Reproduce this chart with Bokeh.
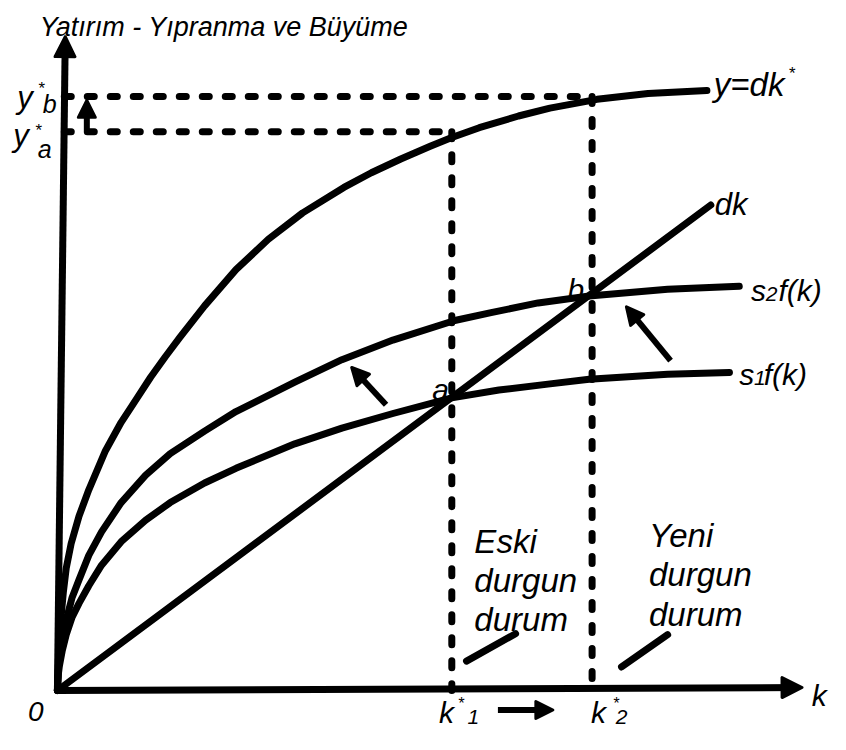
from bokeh.plotting import figure
from bokeh.models import Range1d, Arrow, NormalHead
from bokeh.core.properties import value
from bokeh.embed import file_html
from bokeh.resources import INLINE

# ---- data (k on x, amount on y; origin = 0) ----
# output curve (top curve, labelled y=dk*)
k_top = [0, 1, 2, 4, 6, 9, 14, 22, 32, 49, 65, 80, 95, 110, 125, 150, 182, 215, 250, 292, 320, 350, 380, 402, 430, 470, 502, 550, 602, 662]
y_top = [0, 30, 50, 78, 100, 125, 150, 178, 205, 245, 274, 297, 320, 341, 361, 393, 430, 461, 488, 514, 529, 543, 556, 565, 575, 587, 595, 604, 610, 613]
# saving curve with higher saving rate: s2 f(k)
k_s2 = [0, 1, 2, 5, 9, 15, 22, 32, 45, 65, 90, 115, 150, 182, 242, 290, 342, 405, 442, 490, 542, 622, 695]
y_s2 = [0, 22, 32, 52, 72, 95, 113, 138, 162, 192, 220, 242, 265, 285, 315, 338, 358, 378, 386, 396, 403, 410, 413]
# saving curve with lower saving rate: s1 f(k)
k_s1 = [0, 1, 2, 5, 9, 15, 22, 32, 45, 65, 90, 115, 150, 182, 242, 290, 342, 402, 450, 500, 542, 622, 685]
y_s1 = [0, 17, 25, 41, 57, 75, 89, 107, 128, 152, 174, 192, 212, 227, 252, 268, 283, 299, 307, 313, 318, 323, 325]
# depreciation line dk
k_dk = [0, 666]
y_dk = [0, 496]
# steady states
k_star = [402, 545]        # k*1, k*2
y_star = [571, 607]        # y*a, y*b
# axis extents
x_axis_end = [759, 3]
y_axis_end = [8, 668]

FONT = value("Liberation Sans")

p = figure(width=830, height=734, output_backend="svg", toolbar_location=None,
           x_range=Range1d(-58, 788), y_range=Range1d(-45, 705), min_border=0)
p.axis.visible = False
p.grid.visible = False
p.outline_line_color = None
p.background_fill_color = "white"

LW = 7
for kx, ky in [(k_top, y_top), (k_s2, y_s2), (k_s1, y_s1), (k_dk, y_dk)]:
    p.line(kx, ky, line_width=LW, line_color="black", line_join="round", line_cap="round")

# dashed guides
dash = "7 16"
p.line([7, k_star[1]], [y_star[1], y_star[1]], line_width=LW, line_dash=dash, line_cap="round", color="black")
p.line([7, k_star[0]], [y_star[0], y_star[0]], line_width=LW, line_dash=dash, line_cap="round", color="black")
p.line([k_star[0], k_star[0]], [y_star[0], 0], line_width=LW, line_dash=dash, line_cap="round", color="black")
p.line([k_star[1], k_star[1]], [y_star[1], 0], line_width=LW, line_dash=dash, line_cap="round", color="black")

# axes with arrow heads
for xe, ye in [(x_axis_end[0], x_axis_end[1]), (y_axis_end[0], y_axis_end[1])]:
    p.add_layout(Arrow(end=NormalHead(size=20, fill_color="black", line_color="black", line_width=3, line_join="round"),
                       x_start=0, y_start=0, x_end=xe, y_end=ye, line_width=LW, line_color="black"))

def arrow(x0, y0, x1, y1, size=17):
    p.add_layout(Arrow(end=NormalHead(size=size, fill_color="black", line_color="black", line_width=3, line_join="round"),
                       x_start=x0, y_start=y0, x_end=x1, y_end=y1, line_width=6, line_color="black"))

arrow(30, y_star[0] + 1, 30, y_star[1] - 4)
arrow(335, 292, 300, 330)
arrow(625, 337, 580, 392)
arrow(449, -20, 505, -20)

# slash markers
p.line([417, 467], [30, 58], line_width=LW, line_cap="round", color="black")
p.line([575, 622], [24, 57], line_width=LW, line_cap="round", color="black")

def label(x, y, s, size):
    p.text([x], [y], text=[s], text_font=FONT, text_font_style="italic",
           text_font_size=f"{size}px", text_baseline="alphabetic", text_align="left", text_color="black")

label(-18, 678, "Yatırım - Yıpranma ve Büyüme", 27)
label(669, 619, "y=dk", 33)
label(745, 630, "*", 17)
label(670, 497, "dk", 31)
label(707, 409, "s", 30)
label(722, 405, "2", 21)
label(735, 409, "f(k)", 30)
label(695, 323, "s", 30)
label(710, 319, "1", 21)
label(720, 323, "f(k)", 30)
label(520, 410, "b", 30)
label(382, 308, "a", 30)
label(769, -5, "k", 30)
label(-30, -21, "0", 28)
label(389, -23, "k", 30)
label(408, -13, "*", 16)
label(418, -27, "1", 21)
label(544, -23, "k", 30)
label(566, -13, "*", 16)
label(569, -27, "2", 21)
label(-41, 606, "y", 31)
label(-20, 615, "*", 17)
label(-15, 599, "b", 25)
label(-45, 567, "y", 31)
label(-23, 572, "*", 17)
label(-20, 553, "a", 25)
for i, s in enumerate(["Eski", "durgun", "durum"]):
    label(425, 152 - 40 * i, s, 33)
for i, s in enumerate(["Yeni", "durgun", "durum"]):
    label(603, 158 - 40 * i, s, 33)

open("out.html", "w").write(file_html(p, INLINE))
